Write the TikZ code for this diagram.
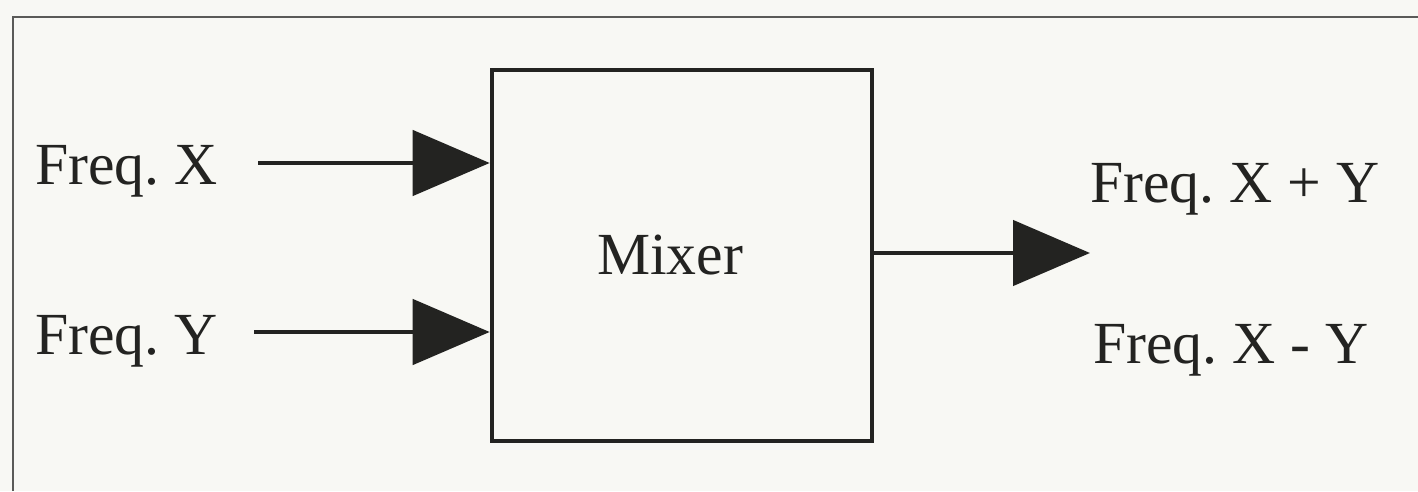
\documentclass[tikz,border=0pt]{standalone}
\usepackage{fontspec}
\setmainfont{Liberation Serif}
\usetikzlibrary{arrows.meta}
\definecolor{paper}{RGB}{248,248,244}
\definecolor{ink}{RGB}{35,35,33}
\frenchspacing
\tikzset{
  lbl/.style={inner sep=0pt, anchor=base west, text=ink, font=\fontsize{34}{40}\selectfont},
  sig/.style={line width=2.7pt, draw=ink, -{Triangle[length=1.54cm,width=1.3cm]}}
}
\begin{document}
\begin{tikzpicture}[x=0.02cm,y=0.02cm]
\useasboundingbox (0,0) rectangle (1418,491);
\fill[paper] (0,0) rectangle (1418,491);
\draw[line width=1.6pt, draw=ink!75] (13,0) -- (13,474) -- (1418,474);

\node[draw=ink, line width=2.6pt, minimum width=380*0.02cm, minimum height=371*0.02cm, text=ink,
      font=\fontsize{34}{40}\selectfont] (mixer) at (682,235.5) {Mixer\kern0.48cm};

\node[lbl] (inX) at (35,306) {Freq. X};
\node[lbl] (inY) at (35,136) {Freq. Y};
\node[lbl] (outSum) at (1090,288) {Freq. X + Y};
\node[lbl] (outDiff) at (1093,128) {Freq. X - Y};
\coordinate (tip) at (1090,238);

\draw[sig] ([xshift=40*0.02cm]inX.east |- 0,328) -- (mixer.west |- 0,328);
\draw[sig] ([xshift=36*0.02cm]inY.east |- 0,159) -- (mixer.west |- 0,159);
\draw[sig] (mixer.east |- tip) -- (tip);
\end{tikzpicture}
\end{document}
